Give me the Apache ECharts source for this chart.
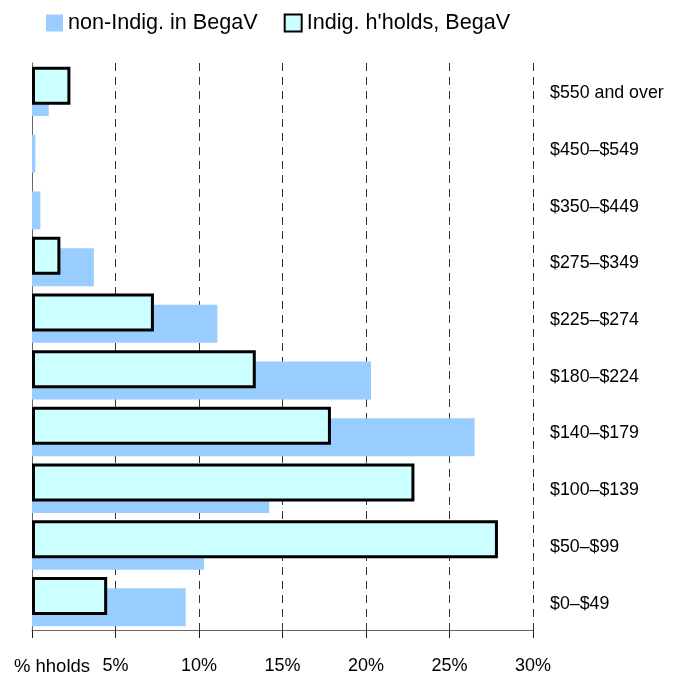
<!DOCTYPE html>
<html>
<head>
<meta charset="utf-8">
<script src="https://cdn.jsdelivr.net/npm/echarts@6/dist/echarts.min.js"></script>
<style>
    html, body { margin: 0; padding: 0; background: #fff; }
    #chart { width: 675px; height: 676px; }
</style>
</head>
<body>
<div id="chart"></div>
<script>
const categories = ["$0–$49", "$50–$99", "$100–$139", "$140–$179", "$180–$224",
    "$225–$274", "$275–$349", "$350–$449", "$450–$549", "$550 and over"];

// % of households, read bottom to top
const nonIndig = [9.2, 10.3, 14.2, 26.5, 20.3, 11.1, 3.7, 0.5, 0.2, 1.0];
const indig = [4.5, 27.9, 22.9, 17.9, 13.4, 7.3, 1.7, null, null, 2.3];

const xTicks = [0, 5, 10, 15, 20, 25, 30];

const nonName = "non-Indig. in BegaV";
const indigName = "Indig. h'holds, BegaV";
const font = "'Liberation Sans', Arial, Helvetica, sans-serif";

const chart = echarts.init(document.getElementById("chart"), null, { renderer: "canvas" });

const option = {
    animation: false,
    backgroundColor: "#fff",
    textStyle: { fontFamily: font, color: "#000" },
    legend: {
        left: 41,
        top: 7,
        itemWidth: 17,
        itemHeight: 17,
        itemGap: 26,
        icon: "rect",
        textStyle: { fontSize: 21.6, color: "#000", fontFamily: font },
        data: [
            { name: nonName, itemStyle: { color: "#99ccff", borderWidth: 0 } },
            { name: indigName, itemStyle: { color: "#ccffff", borderColor: "#000", borderWidth: 2 } }
        ]
    },
    grid: {
        left: 32,
        right: 142,
        top: 63,
        bottom: 41
    },
    xAxis: {
        type: "value",
        min: xTicks[0],
        max: xTicks[xTicks.length - 1],
        interval: 5,
        axisLine: { show: true, lineStyle: { color: "#666", width: 1 } },
        axisTick: { show: true, length: 8, lineStyle: { color: "#222" } },
        splitLine: {
            show: true,
            lineStyle: { color: "#333", type: [8, 6], width: 1 }
        },
        axisLabel: {
            margin: 27,
            fontSize: 18,
            color: "#000",
            fontFamily: font,
            formatter: v => v === 0 ? "{h|% hholds}" : v + "%",
            rich: {
                h: { fontSize: 18.5, fontFamily: font, color: "#000", padding: [0, 0, 0, 40] }
            }
        }
    },
    yAxis: [
        {
            type: "category",
            data: categories,
            position: "left",
            axisLine: { show: true, lineStyle: { color: "#666", width: 1 } },
            axisTick: { show: false },
            axisLabel: { show: false },
            splitLine: { show: false }
        },
        {
            type: "category",
            data: categories,
            position: "right",
            axisLine: { show: false },
            axisTick: { show: false },
            splitLine: { show: false },
            axisLabel: {
                margin: 17,
                fontSize: 17.8,
                color: "#000",
                fontFamily: font,
                verticalAlign: "top",
                padding: [-7, 0, 0, 0]
            }
        }
    ],
    series: [
        {
            name: indigName,
            type: "bar",
            yAxisIndex: 0,
            data: indig,
            barWidth: 38,
            barGap: "-70%",
            z: 3,
            itemStyle: { color: "#ccffff", borderColor: "#000", borderWidth: 3 }
        },
        {
            name: nonName,
            type: "bar",
            yAxisIndex: 0,
            data: nonIndig,
            barWidth: 38,
            barGap: "-70%",
            z: 2,
            itemStyle: { color: "#99ccff" }
        }
    ]
};

chart.setOption(option);
</script>
</body>
</html>
